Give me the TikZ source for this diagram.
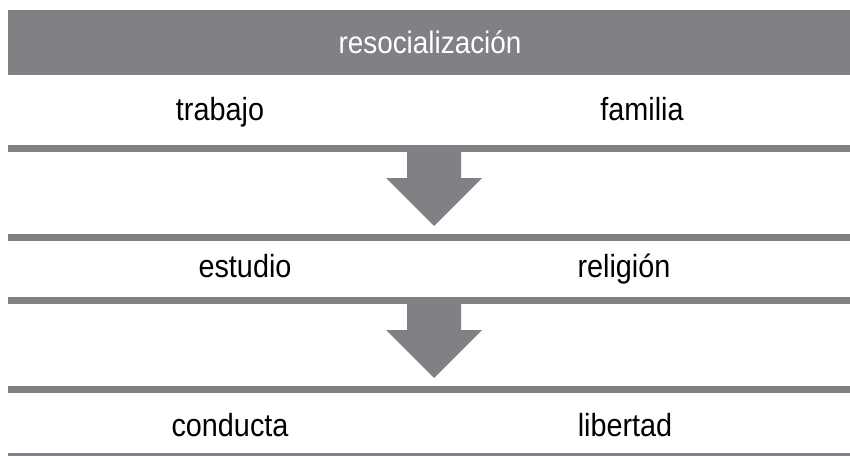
\documentclass[tikz,border=0pt]{standalone}
\usepackage{fontspec}
\setmainfont[FakeStretch=0.9]{Liberation Sans}
\definecolor{bandgray}{RGB}{128,129,132}

\begin{document}
\begin{tikzpicture}
[x=1pt,y=-1pt,
  labeldecorate/.style={anchor=base,inner sep=0pt,font=\fontsize{32}{38}\selectfont},
  titledecorate/.style={anchor=base,inner sep=0pt,text=white,font=\fontsize{31}{36}\selectfont},
  bardecorate/.style={fill=bandgray,draw=none},
  arrowdecorate/.style={fill=bandgray,draw=none}]
\useasboundingbox (0,0) rectangle (850,455);
%% header band
\fill[bardecorate] (8,10) rectangle (850,75);
\node (title) at (430,53) [titledecorate] {resocialización};
%% bars or rules
\foreach \y in {145, 234, 297, 386, 453}
{
  \fill[bardecorate] (8,\y) rectangle (850,\y+7);
}
%% arrows between rules
\foreach \top in {152, 304}
{
  \fill[arrowdecorate] (407,\top) -- (461,\top) -- (461,\top+26) -- (482,\top+26)
    -- (434,\top+74) -- (386,\top+26) -- (407,\top+26) -- cycle;
}
%% labels
\foreach \nodename/\x/\y/\caption in {
  trabajo/220/120/trabajo, familia/642/120/familia,
  estudio/245/277/estudio, religion/624/277/religión,
  conducta/230/436/conducta, libertad/625/436/libertad}
{
  \node (\nodename) at (\x,\y) [labeldecorate] {\caption};
}
\end{tikzpicture}
\end{document}
